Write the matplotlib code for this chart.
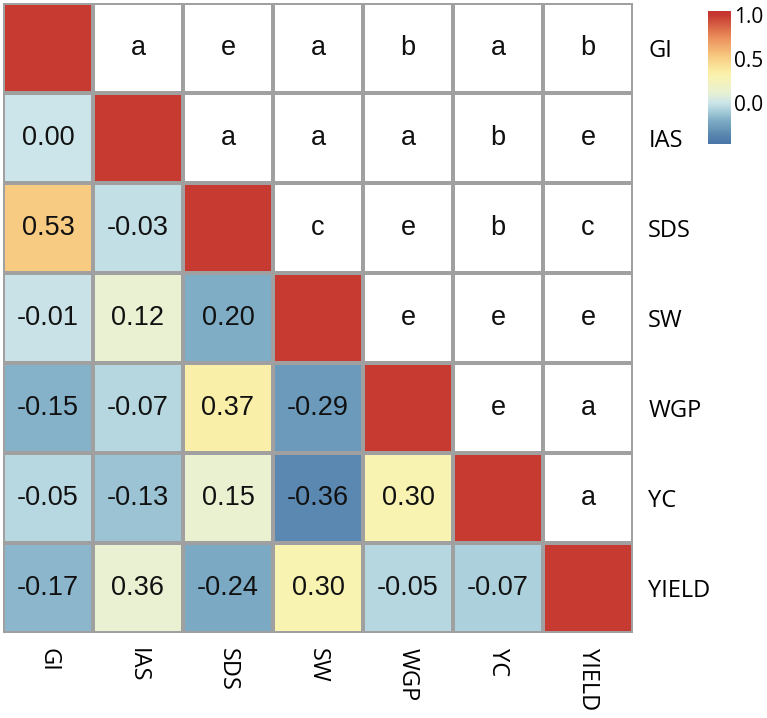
import matplotlib.pyplot as plt
import numpy as np
from matplotlib.colors import LinearSegmentedColormap, Normalize

# Data
traits = ['GI', 'IAS', 'SDS', 'SW', 'WGP', 'YC', 'YIELD']

# lower triangle correlations (row by row, printed in the cells)
r_IAS = [0.00]
r_SDS = [0.53, -0.03]
r_SW = [-0.01, 0.12, 0.20]
r_WGP = [-0.15, -0.07, 0.37, -0.29]
r_YC = [-0.05, -0.13, 0.15, -0.36, 0.30]
r_YIELD = [-0.17, 0.36, -0.24, 0.30, -0.05, -0.07]

# fill level of each lower cell
shade_IAS = [0.00]
shade_SDS = [0.53, -0.02]
shade_SW = [-0.01, 0.12, -0.20]
shade_WGP = [-0.18, -0.06, 0.34, -0.29]
shade_YC = [-0.05, -0.13, 0.13, -0.36, 0.30]
shade_YIELD = [-0.17, 0.12, -0.22, 0.30, -0.06, -0.08]

# significance letters in the upper triangle (row by row)
sig_GI = ['a', 'e', 'a', 'b', 'a', 'b']
sig_IAS = ['a', 'a', 'a', 'b', 'e']
sig_SDS = ['c', 'e', 'b', 'c']
sig_SW = ['e', 'e', 'e']
sig_WGP = ['e', 'a']
sig_YC = ['a']

lower_vals = [r_IAS, r_SDS, r_SW, r_WGP, r_YC, r_YIELD]
lower_shade = [shade_IAS, shade_SDS, shade_SW, shade_WGP, shade_YC, shade_YIELD]
upper_sig = [sig_GI, sig_IAS, sig_SDS, sig_SW, sig_WGP, sig_YC]

n = len(traits)
shade = np.full((n, n), np.nan)
for i in range(n):
    shade[i, i] = 1.0
for i, row in enumerate(lower_shade, start=1):
    for j, v in enumerate(row):
        shade[i, j] = v

vmin, vmax = -0.47, 1.05
anchors = [(-0.47, '#4a75a8'), (-0.36, '#5b88b0'), (-0.29, '#6b9aba'),
           (-0.20, '#80adc6'), (-0.10, '#a6cdd9'), (0.00, '#cce5ea'),
           (0.12, '#e9f1d2'), (0.30, '#f9f3b1'), (0.37, '#fbeca2'),
           (0.53, '#f8cb82'), (0.75, '#eb8f5b'), (1.00, '#c73a32'),
           (1.05, '#c4352f')]
cmap = LinearSegmentedColormap.from_list(
    'corr', [((v - vmin) / (vmax - vmin), c) for v, c in anchors])
cmap.set_bad('white')
norm = Normalize(vmin=vmin, vmax=vmax)

fig = plt.figure(figsize=(7.67, 7.18), dpi=100)
ax = fig.add_axes([3 / 767, 85 / 718, 630 / 767, 630 / 718])
ax.pcolormesh(np.ma.masked_invalid(shade), cmap=cmap, norm=norm,
              edgecolors='#a0a0a0', linewidth=1.5)
ax.set_xlim(0, n)
ax.set_ylim(n, 0)

for i, row in enumerate(lower_vals, start=1):
    for j, v in enumerate(row):
        ax.text(j + 0.5, i + 0.5, f'{v:.2f}', ha='center', va='center',
                fontsize=19.5, family='Liberation Sans', color='#111111')
for i, row in enumerate(upper_sig):
    for k, s in enumerate(row):
        j = i + 1 + k
        ax.text(j + 0.5, i + 0.5, s, ha='center', va='center',
                fontsize=19.5, family='Liberation Sans', color='#111111')

ax.set_xticks(np.arange(n) + 0.5)
ax.set_xticklabels(traits, rotation=-90, va='top', fontsize=17,
                   family='Open Sans')
ax.set_yticks(np.arange(n) + 0.5)
ax.set_yticklabels(traits, fontsize=17, family='Open Sans')
ax.yaxis.tick_right()
ax.tick_params(length=0, pad=11)
for sp in ax.spines.values():
    sp.set_visible(False)

# colorbar
cax = fig.add_axes([708 / 767, (718 - 144) / 718, 22 / 767, 133 / 718])
grad = np.linspace(vmin, vmax, 256).reshape(-1, 1)
cax.imshow(grad, cmap=cmap, norm=norm, aspect='auto', origin='lower',
           extent=[0, 1, vmin, vmax])
cax.set_xticks([])
cax.yaxis.tick_right()
cax.set_yticks([0.0, 0.5, 1.0])
cax.set_yticklabels(['0.0', '0.5', '1.0'], fontsize=15, family='Open Sans')
cax.tick_params(length=0, pad=3)
for sp in cax.spines.values():
    sp.set_visible(False)

fig.savefig('out.png', dpi=100)
